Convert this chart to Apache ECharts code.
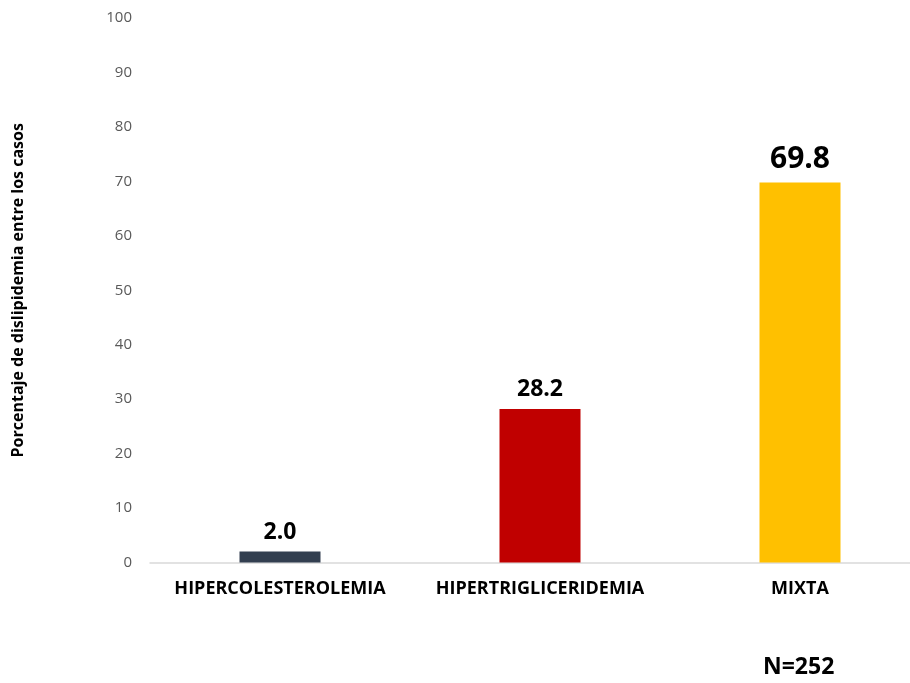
<!DOCTYPE html>
<html>
<head>
<meta charset="utf-8">
<script src="https://cdn.jsdelivr.net/npm/echarts@6/dist/echarts.min.js"></script>
<style>html,body{margin:0;padding:0;background:#fff;overflow:hidden}#c{width:930px;height:683px}</style>
</head>
<body>
<div id="c"></div>
<script>
const categories = ['HIPERCOLESTEROLEMIA', 'HIPERTRIGLICERIDEMIA', 'MIXTA'];
const values = [2.0, 28.2, 69.8];
const barColors = ['#333f50', '#c00000', '#ffc000'];
const labelSizes = [23, 23, 30];
const yTicks = { min: 0, max: 100, interval: 10 };
const yTitle = 'Porcentaje de dislipidemia entre los casos';
const note = 'N=252';

const font = '"Open Sans", "Liberation Sans", sans-serif';
const chart = echarts.init(document.getElementById('c'));
chart.setOption({
  animation: false,
  grid: { left: 150, right: 0, top: 18, bottom: 120.5, containLabel: false },
  xAxis: {
    type: 'category',
    data: categories,
    axisLine: { lineStyle: { color: '#d9d9d9', width: 1.5 } },
    axisTick: { show: false },
    axisLabel: { color: '#000', fontWeight: 'bold', fontSize: 18, fontFamily: font, margin: 17, interval: 0, hideOverlap: false }
  },
  yAxis: {
    type: 'value',
    min: yTicks.min, max: yTicks.max, interval: yTicks.interval,
    name: yTitle,
    nameLocation: 'middle',
    nameGap: 124,
    nameTextStyle: { color: '#000', fontWeight: 'bold', fontSize: 16, fontFamily: font },
    axisLine: { show: false },
    axisTick: { show: false },
    splitLine: { show: false },
    axisLabel: { color: '#595959', fontSize: 15, fontFamily: font, margin: 18 }
  },
  series: [{
    type: 'bar',
    barWidth: 81,
    data: values.map((v, i) => ({
      value: v,
      itemStyle: { color: barColors[i] },
      label: { fontSize: labelSizes[i] }
    })),
    label: {
      show: true,
      position: 'top',
      distance: 8,
      color: '#000',
      fontWeight: 'bold',
      fontFamily: font,
      formatter: p => p.value.toFixed(1)
    }
  }],
  graphic: [{
    type: 'text',
    left: 763,
    top: 656,
    style: { text: note, fill: '#000', font: 'bold 23px ' + font }
  }]
});
</script>
</body>
</html>
